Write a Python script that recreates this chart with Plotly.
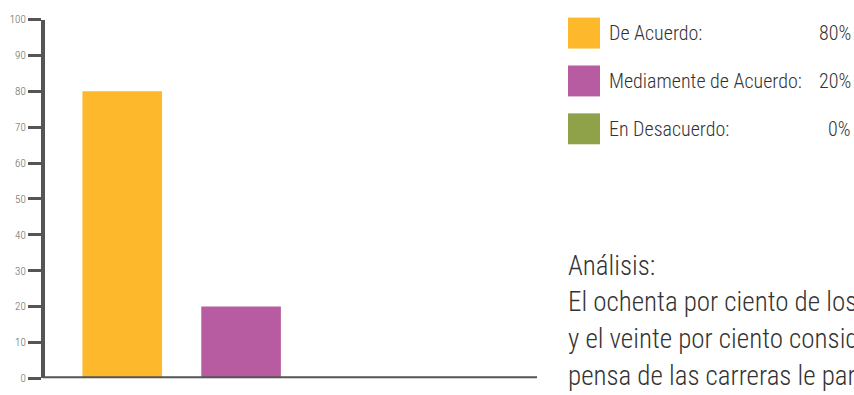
import plotly.graph_objects as go

# Survey results
categories = ["De Acuerdo", "Mediamente de Acuerdo", "En Desacuerdo"]
values = [80, 20, 0]
colors = ["#FDB92B", "#B85CA2", "#8FA24A"]
legend_labels = ["De Acuerdo:", "Mediamente de Acuerdo:", "En Desacuerdo:"]
legend_pcts = ["80%", "20%", "0%"]
y_ticks = [0, 10, 20, 30, 40, 50, 60, 70, 80, 90, 100]

analysis_title = "Análisis:"
analysis_lines = [
    "El ochenta por ciento de los encuestados está de acuerdo",
    "y el veinte por ciento considera que el",
    "pensa de las carreras le parece adecuado",
]

W, H = 854, 395
FONT = "Roboto Condensed, DejaVu Sans Condensed, sans-serif"
AXIS = "#555555"
TEXT = "#333333"

fig = go.Figure()
fig.add_trace(go.Bar(
    x=list(range(len(categories))),
    y=values,
    marker=dict(color=colors, line=dict(width=0)),
    width=0.67,
    hoverinfo="skip",
    showlegend=False,
))

# Baseline drawn as a shape so the "0" tick label stays visible
fig.add_shape(type="line", xref="x domain", yref="y",
              x0=-0.004, x1=1, y0=0, y1=0,
              line=dict(color=AXIS, width=4), layer="above")

# Legend: colour swatches with label and percentage
sw = 32
for i, (lab, pct, col) in enumerate(zip(legend_labels, legend_pcts, colors)):
    top = 12 + i * 49.5
    fig.add_shape(type="rect", xref="paper", yref="paper",
                  x0=568 / W, x1=(568 + sw) / W,
                  y0=1 - (top + sw) / H, y1=1 - top / H,
                  fillcolor=col, line=dict(width=0))
    yc = 1 - (top + sw / 2) / H
    fig.add_annotation(xref="paper", yref="paper", x=607 / W, y=yc,
                       text=lab, showarrow=False, xanchor="left", yanchor="middle",
                       font=dict(family=FONT, size=20, color=TEXT, weight=300))
    fig.add_annotation(xref="paper", yref="paper", x=853 / W, y=yc,
                       text=pct, showarrow=False, xanchor="right", yanchor="middle",
                       font=dict(family=FONT, size=20, color=TEXT, weight=300))

# Analysis text block
fig.add_annotation(xref="paper", yref="paper", x=566 / W, y=1 - 269 / H,
                   text=analysis_title, showarrow=False, xanchor="left", yanchor="middle",
                   font=dict(family=FONT, size=27, color=TEXT, weight=300))
for i, line in enumerate(analysis_lines):
    fig.add_annotation(xref="paper", yref="paper", x=566 / W, y=1 - (306 + i * 38.5) / H,
                       text=line, showarrow=False, xanchor="left", yanchor="middle",
                       font=dict(family=FONT, size=27, color=TEXT, weight=300))

fig.update_layout(
    width=W, height=H,
    margin=dict(l=0, r=0, t=0, b=0),
    paper_bgcolor="white", plot_bgcolor="white",
    xaxis=dict(
        domain=[45 / W, 537 / W],
        range=[-0.65, 3.49],
        showline=False, showticklabels=False, ticks="",
        showgrid=False, zeroline=False, fixedrange=True,
    ),
    yaxis=dict(
        domain=[10 / H, 381 / H],
        range=[0, 100],
        tickvals=y_ticks,
        showline=True, linewidth=4, linecolor=AXIS,
        ticks="outside", ticklen=13, tickwidth=3, tickcolor=AXIS,
        tickfont=dict(family=FONT, size=11, color="#666666", weight=300),
        showgrid=False, zeroline=False, fixedrange=True,
    ),
)

fig.write_html("out.html")
